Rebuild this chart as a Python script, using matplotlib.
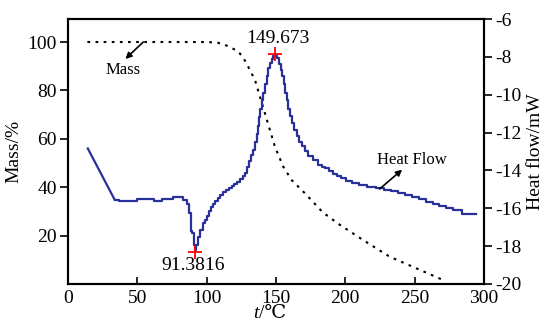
#!/bin/env -S python3

import matplotlib
matplotlib.use("Agg")
from matplotlib import pyplot as plt


# Mass curve (dotted, left axis)
MASS_T = [14, 60, 100, 108, 113.3, 118, 122.9, 126.5, 130, 134.9, 138.5, 142.1, 145.7,
          149.3, 155.3, 161.3, 170.9, 184, 196, 212.8, 232, 251.2, 270.4, 272]
MASS = [100, 100, 100, 99.7, 98.8, 97.6, 96, 93.5, 89.8, 84.3, 77.4, 70.5, 63.6,
        56.7, 48.5, 43, 37.5, 29.5, 24.5, 18.2, 11.3, 6.5, 1.7, 1.3]

# Heat flow: straight ramp at the start, then a stair-stepped trace (steps-post)
RAMP_T = [14.3, 33.7]
RAMP_HF = [-12.84, -15.55]

HF_T = [33.7, 36.5, 49.8, 62.2, 67.8, 76.0, 83.3, 85.8, 87.0, 88.6, 89.8, 90.6, 91.4,
        92.6, 94.0, 95.6, 97.3, 98.6, 100, 101.5, 103, 104.5, 106, 108, 110, 112, 114,
        116, 118, 120, 122, 124, 126, 127.5, 129, 130.5, 132, 133.5, 135, 136.3, 137.3,
        138, 138.8, 140, 141, 142.2, 143.3, 144.5, 145.7, 147, 148.2, 150.5, 152.5, 153.6,
        154.3, 155.5, 156.5, 157.7, 158.9, 160.1, 161.3, 163, 164.9, 166.7, 168.5, 170.9,
        173.3, 176.9, 180.5, 183, 185.3, 188, 191, 194, 197, 200.5, 205, 210, 216, 222,
        228, 233, 238, 243, 248, 253, 258, 263, 268, 273, 278, 284, 294.5]
HF = [-15.55, -15.64, -15.53, -15.64, -15.5, -15.4, -15.55, -15.8, -16.25, -17.2, -17.3, -17.93, -18.2,
      -17.93, -17.5, -17.14, -16.8, -16.6, -16.4, -16.17, -15.95, -15.75, -15.6, -15.45, -15.3, -15.15, -15.05,
      -14.93, -14.82, -14.72, -14.6, -14.45, -14.3, -14.13, -13.8, -13.5, -13.2, -12.9, -12.5, -12.1, -11.66,
      -11.2, -10.77, -10.3, -9.9, -9.45, -9.0, -8.6, -8.3, -8.1, -7.95, -8.05, -8.4, -8.7,
      -9.0, -9.45, -9.9, -10.3, -10.77, -11.1, -11.47, -11.85, -12.2, -12.5, -12.72, -13.0,
      -13.25, -13.45, -13.69, -13.8, -13.87, -14.05, -14.2, -14.31, -14.42, -14.55, -14.65, -14.75, -14.85, -14.95,
      -15.02, -15.1, -15.2, -15.3, -15.42, -15.52, -15.65, -15.75, -15.88, -16.0, -16.1, -16.29, -16.29]

PEAK = (149.673, -7.86)
VALLEY = (91.3816, -18.3)

X_TICKS = [0, 50, 100, 150, 200, 250, 300]
MASS_TICKS = [20, 40, 60, 80, 100]
HF_TICKS = [-20, -18, -16, -14, -12, -10, -8, -6]

LINE_BLUE = "#28309a"
SERIF = ["Liberation Serif", "DejaVu Serif", "DejaVu Sans"]


def main() -> None:
    plt.rcParams["font.family"] = SERIF
    plt.rcParams["axes.unicode_minus"] = False

    fig = plt.figure(figsize=(5.43, 3.25), dpi=100)
    ax = fig.add_axes([0.1252, 0.1262, 0.7658, 0.8153])
    ax2 = ax.twinx()

    arrow = dict(arrowstyle="-|>", color="black", lw=1.2, mutation_scale=9, shrinkA=0, shrinkB=0)

    # mass (left axis)
    ax.plot(MASS_T, MASS, color="black", lw=1.5, linestyle=(0, (1.3, 2.6)))
    ax.set_xlim(0, 300)
    ax.set_ylim(0, 109.5)
    ax.set_xticks(X_TICKS)
    ax.set_yticks(MASS_TICKS)
    ax.set_ylabel("Mass/%", fontsize=14, labelpad=4)
    ax.tick_params(axis="x", direction="in", length=5, width=1.2, labelsize=14, pad=4)
    ax.tick_params(axis="y", direction="out", length=6, width=1.2, labelsize=14, pad=2)

    ax.annotate("", xy=(41.4, 93), xytext=(54.3, 100), arrowprops=arrow)
    ax.text(40, 88.4, "Mass", fontsize=12, ha="center", va="center")

    # x label: italic t followed by /℃
    fig.text(0.477, 0.035, "t", fontsize=14, style="italic", ha="right", va="center")
    fig.text(0.477, 0.035, "/℃", fontsize=14, ha="left", va="center")

    # heat flow (right axis)
    ax2.plot(RAMP_T, RAMP_HF, color=LINE_BLUE, lw=1.6)
    ax2.plot(HF_T, HF, color=LINE_BLUE, lw=1.6, drawstyle="steps-post")
    ax2.plot(*PEAK, marker="+", color="red", ms=10, mew=1.3)
    ax2.plot(*VALLEY, marker="+", color="red", ms=10, mew=1.3)
    ax2.text(151.5, -7.05, f"{PEAK[0]:.3f}", fontsize=14, ha="center", va="center")
    ax2.text(90.3, -19.0, f"{VALLEY[0]:.4f}", fontsize=14, ha="center", va="center")

    ax2.annotate("", xy=(241.1, -13.96), xytext=(224.8, -14.98), arrowprops=arrow)
    ax2.text(248.2, -13.43, "Heat Flow", fontsize=12, ha="center", va="center")

    ax2.set_ylim(-20, -6)
    ax2.set_yticks(HF_TICKS)
    ax2.set_ylabel("Heat flow/mW", fontsize=14, labelpad=4)
    ax2.tick_params(axis="y", direction="out", length=6, width=1.2, labelsize=14, pad=2)

    for a in (ax, ax2):
        for spine in a.spines.values():
            spine.set_linewidth(1.5)

    fig.savefig("out.png", dpi=100)


if __name__ == "__main__":
    main()
